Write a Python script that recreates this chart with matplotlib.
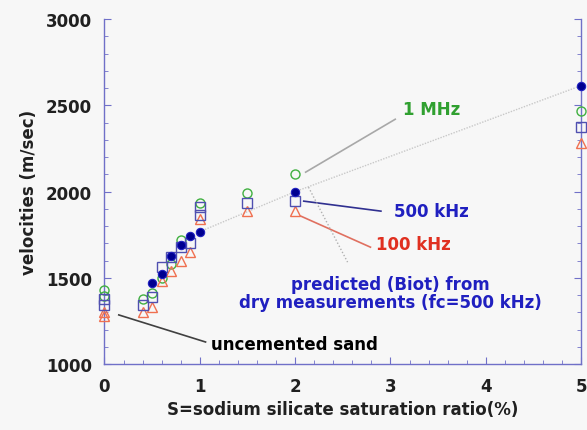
import matplotlib
matplotlib.use("Agg")
import matplotlib.pyplot as plt
from matplotlib.ticker import MultipleLocator

plt.rcParams['font.family'] = ['DejaVu Sans']
plt.rcParams['font.weight'] = 'bold'

# ---- data ----
s_1mhz = [0, 0, 0.4, 0.5, 0.6, 0.7, 0.8, 1.0, 1.5, 2.0, 5.0]
v_1mhz = [1430, 1395, 1375, 1410, 1500, 1580, 1720, 1935, 1990, 2105, 2465]

s_500k = [0, 0, 0.4, 0.5, 0.6, 0.7, 0.8, 0.9, 1.0, 1.0, 1.5, 2.0, 5.0]
v_500k = [1380, 1345, 1340, 1390, 1565, 1620, 1680, 1700, 1910, 1865, 1935, 1945, 2375]

s_100k = [0, 0, 0.4, 0.5, 0.6, 0.7, 0.8, 0.9, 1.0, 1.5, 2.0, 5.0]
v_100k = [1300, 1280, 1300, 1330, 1480, 1540, 1600, 1650, 1840, 1885, 1890, 2280]

s_pred = [0.5, 0.6, 0.7, 0.8, 0.9, 1.0, 2.0, 5.0]
v_pred = [1470, 1520, 1625, 1690, 1745, 1768, 2000, 2615]

x_ticks = [0, 1, 2, 3, 4, 5]
y_ticks = [1000, 1500, 2000, 2500, 3000]

bg = '#f7f7f7'
axc = '#7070c8'

fig = plt.figure(figsize=(5.87, 4.31), dpi=100, facecolor=bg)
ax = fig.add_axes([0.178, 0.153, 0.812, 0.800], facecolor=bg)

# predicted trend line
trend_s = [s for s in s_pred if s >= 1.0]
trend_v = [v for s, v in zip(s_pred, v_pred) if s >= 1.0]
ax.plot(trend_s, trend_v, color='#c8c8c8', lw=1.0, ls=(0, (1, 1)), zorder=1)

ms = 6.5
ax.plot(s_1mhz, v_1mhz, 'o', mfc='none', mec='#40b040', mew=1.0, ms=ms, clip_on=False, zorder=3)
ax.plot(s_100k, v_100k, '^', mfc='none', mec='#f07050', mew=1.0, ms=ms, clip_on=False, zorder=3)
ax.plot(s_500k, v_500k, 's', mfc='none', mec='#5050b0', mew=1.0, ms=ms, clip_on=False, zorder=4)
ax.plot(s_pred, v_pred, 'o', mfc='#000090', mec='#2020c0', mew=0.8, ms=6, clip_on=False, zorder=5)

# annotations
fs = 12
def leader(x0, y0, x1, y1, **kw):
    ax.plot([x0, x1], [y0, y1], zorder=2, **kw)

ax.text(3.43, 2478, '1 MHz', color='#30a030', fontsize=fs, ha='center', va='center')
leader(2.11, 2113, 3.05, 2420, color='#a8a8a8', lw=1.2)

ax.text(3.43, 1887, '500 kHz', color='#2020c0', fontsize=fs, ha='center', va='center')
leader(2.09, 1945, 2.90, 1887, color='#303090', lw=1.2)

ax.text(3.24, 1696, '100 kHz', color='#e03020', fontsize=fs, ha='center', va='center')
leader(2.06, 1858, 2.79, 1678, color='#e07060', lw=1.2)

ax.text(3.00, 1412, 'predicted (Biot) from\ndry measurements (fc=500 kHz)', color='#2020c0',
        fontsize=fs, ha='center', va='center', linespacing=1.0)
leader(2.14, 2026, 2.55, 1591, color='#b0b0b0', lw=1.0, ls=(0, (1, 1.5)))

ax.text(1.99, 1116, 'uncemented sand', color='black', fontsize=fs, ha='center', va='center')
leader(0.15, 1285, 1.06, 1128, color='#404040', lw=1.2)

ax.set_xlim(0, 5)
ax.set_ylim(1000, 3000)
ax.set_xticks(x_ticks)
ax.set_yticks(y_ticks)
ax.xaxis.set_minor_locator(MultipleLocator(0.2))
ax.yaxis.set_minor_locator(MultipleLocator(100))
ax.tick_params(which='both', direction='in', colors=axc, labelcolor='#202020',
               labelsize=12, right=True)
ax.tick_params(axis='x', which='major', pad=9)
ax.tick_params(axis='y', which='major', pad=9)
ax.tick_params(which='major', length=5, width=0.8)
ax.tick_params(which='minor', length=3, width=0.6)
for lab in ax.get_xticklabels() + ax.get_yticklabels():
    lab.set_fontweight('bold')
ax.spines['top'].set_visible(False)
for sp in ['left', 'right', 'bottom']:
    ax.spines[sp].set_color(axc)
    ax.spines[sp].set_linewidth(1.0)

ax.set_xlabel('S=sodium silicate saturation ratio(%)', fontsize=fs, fontweight='bold',
              color='#202020', labelpad=4)
ax.set_ylabel('velocities (m/sec)', fontsize=fs, fontweight='bold', color='#202020', labelpad=6)

fig.savefig('out.png', dpi=100, facecolor=bg)
